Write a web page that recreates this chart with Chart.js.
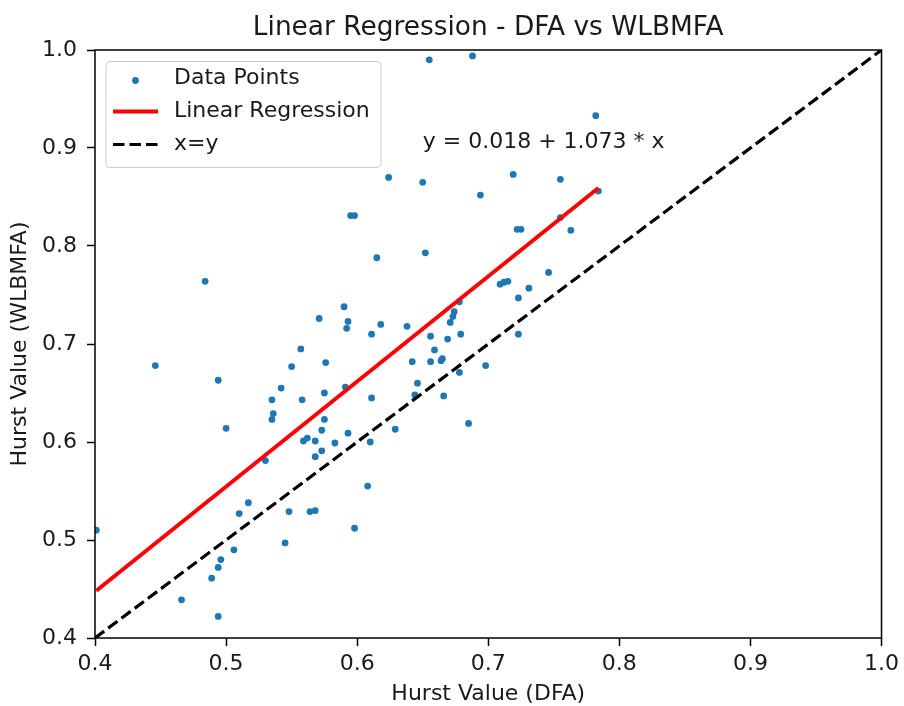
<!DOCTYPE html>
<html lang="en">
<head>
<meta charset="UTF-8">
<title>Linear Regression - DFA vs WLBMFA</title>
<script src="https://cdn.jsdelivr.net/npm/chart.js"></script>
<style>
  html, body { margin: 0; padding: 0; background: #fff; }
  #wrap { width: 904px; height: 706px; }
</style>
</head>
<body>
<div id="wrap"><canvas id="regChart" width="904" height="706"></canvas></div>
<script>
// Hurst values: DFA (x) and WLBMFA (y)
const dfa = [
  0.401, 0.500, 0.530, 0.559, 0.562, 0.568, 0.573, 0.568, 0.573, 0.583,
  0.593, 0.610, 0.608, 0.598, 0.564, 0.568, 0.548, 0.545, 0.517, 0.510,
  0.506, 0.496, 0.494, 0.489, 0.466, 0.494,
  0.615, 0.484, 0.590, 0.571, 0.593, 0.592, 0.611, 0.618, 0.557, 0.550,
  0.576, 0.446, 0.494, 0.542, 0.535, 0.558, 0.575, 0.591, 0.611, 0.536,
  0.535, 0.575,
  0.655, 0.688, 0.782, 0.624, 0.650, 0.719, 0.755, 0.694, 0.784, 0.755,
  0.722, 0.725, 0.763, 0.595, 0.598,
  0.652, 0.746, 0.709, 0.712, 0.715, 0.731, 0.723, 0.678, 0.674, 0.673,
  0.671, 0.638, 0.656, 0.669, 0.679, 0.723, 0.659, 0.642, 0.656, 0.664,
  0.665, 0.698, 0.678, 0.646, 0.644, 0.666, 0.685, 0.629
];
const wlbmfa = [
  0.510, 0.614, 0.581, 0.601, 0.604, 0.601, 0.612, 0.585, 0.591, 0.599,
  0.609, 0.600, 0.555, 0.512, 0.529, 0.530, 0.529, 0.497, 0.538, 0.527,
  0.490, 0.480, 0.472, 0.461, 0.439, 0.422,
  0.788, 0.764, 0.738, 0.726, 0.723, 0.716, 0.710, 0.720, 0.695, 0.677,
  0.681, 0.678, 0.663, 0.655, 0.643, 0.643, 0.650, 0.656, 0.645, 0.629,
  0.623, 0.623,
  0.990, 0.994, 0.933, 0.870, 0.865, 0.873, 0.868, 0.852, 0.856, 0.829,
  0.817, 0.817, 0.816, 0.831, 0.831,
  0.793, 0.773, 0.761, 0.763, 0.764, 0.757, 0.747, 0.743, 0.733, 0.728,
  0.722, 0.718, 0.708, 0.705, 0.710, 0.710, 0.694, 0.682, 0.682, 0.683,
  0.685, 0.678, 0.671, 0.660, 0.648, 0.647, 0.619, 0.613
];

const intercept = 0.018;
const slope = 1.073;
const identityRange = [0.4, 1.0];
const axisTicks = [0.4, 0.5, 0.6, 0.7, 0.8, 0.9, 1.0];
const seriesLabels = ['Data Points', 'Linear Regression', 'x=y'];
const eqText = 'y = 0.018 + 1.073 * x';
const eqPos = [0.65, 0.9];
const chartTitle = 'Linear Regression - DFA vs WLBMFA';

const FONT = 'DejaVu Sans';
const TXT = '#1a1a1a';
const FS = 22;

// build datasets
const points = dfa.map((x, i) => ({ x: x, y: wlbmfa[i] }));
const xMin = Math.min(...dfa), xMax = Math.max(...dfa);
const regLine = [xMin, xMax].map(x => ({ x: x, y: intercept + slope * x }));
const idLine = identityRange.map(v => ({ x: v, y: v }));

// matplotlib-ish frame, title, legend and equation text
const mplDecor = {
  id: 'mplDecor',
  afterDatasetsDraw(chart) {
    const ctx = chart.ctx;
    const a = chart.chartArea;
    const xs = chart.scales.x, ys = chart.scales.y;
    const ds = chart.data.datasets;
    ctx.save();

    // equation
    ctx.fillStyle = TXT;
    ctx.font = FS + 'px "' + FONT + '"';
    ctx.textAlign = 'left';
    ctx.textBaseline = 'alphabetic';
    ctx.fillText(eqText, xs.getPixelForValue(eqPos[0]), ys.getPixelForValue(eqPos[1]));

    // legend box
    const lx = a.left + 11, ly = a.top + 11.5, lw = 275, lh = 106;
    ctx.beginPath();
    ctx.roundRect(lx, ly, lw, lh, 4);
    ctx.fillStyle = 'rgba(255,255,255,0.8)';
    ctx.fill();
    ctx.strokeStyle = '#cccccc';
    ctx.lineWidth = 1;
    ctx.stroke();

    const rows = [ly + 17, ly + 50, ly + 83];
    const hx0 = lx + 7, hx1 = lx + 52;
    ds.forEach((d, i) => {
      const y = rows[i];
      if (d.type === 'line') {
        ctx.beginPath();
        ctx.setLineDash(d.borderDash || []);
        ctx.strokeStyle = d.borderColor;
        ctx.lineWidth = d.borderWidth;
        ctx.moveTo(hx0, y);
        ctx.lineTo(hx1, y);
        ctx.stroke();
        ctx.setLineDash([]);
      } else {
        ctx.beginPath();
        ctx.arc((hx0 + hx1) / 2, y + 2, d.pointRadius, 0, Math.PI * 2);
        ctx.fillStyle = d.backgroundColor;
        ctx.fill();
      }
      ctx.fillStyle = TXT;
      ctx.font = FS + 'px "' + FONT + '"';
      ctx.textBaseline = 'middle';
      ctx.fillText(d.label, lx + 68, y);
    });

    // frame
    ctx.strokeStyle = '#000';
    ctx.lineWidth = 1.5;
    ctx.strokeRect(a.left, a.top, a.right - a.left, a.bottom - a.top);

    // title centred over axes
    ctx.fillStyle = TXT;
    ctx.font = '26.4px "' + FONT + '"';
    ctx.textAlign = 'center';
    ctx.textBaseline = 'alphabetic';
    ctx.fillText(chartTitle, (a.left + a.right) / 2, a.top - 15);
    ctx.restore();
  }
};

function axisOpts(title, isY) {
  return {
    type: 'linear',
    min: axisTicks[0],
    max: axisTicks[axisTicks.length - 1],
    afterBuildTicks: s => { s.ticks = axisTicks.map(v => ({ value: v })); },
    afterFit: s => { if (isY) s.width = 95; else s.height = 68; },
    ticks: {
      color: TXT,
      padding: isY ? 10 : 5,
      font: { family: FONT, size: FS },
      callback: v => Number(v).toFixed(1)
    },
    grid: {
      display: true,
      drawOnChartArea: false,
      drawTicks: true,
      tickLength: 8,
      tickWidth: 1.5,
      tickColor: '#000'
    },
    border: { display: false },
    title: {
      display: true,
      text: title,
      color: TXT,
      font: { family: FONT, size: FS, lineHeight: 1 },
      padding: isY ? { top: 9, bottom: 0 } : { top: 0, bottom: 1 }
    }
  };
}

const ctx = document.getElementById('regChart').getContext('2d');
new Chart(ctx, {
  type: 'scatter',
  data: {
    datasets: [
      {
        label: seriesLabels[0],
        data: points,
        backgroundColor: '#1f77b4',
        borderWidth: 0,
        pointRadius: 3.4,
        pointHoverRadius: 3.4,
        order: 3
      },
      {
        type: 'line',
        label: seriesLabels[1],
        data: regLine,
        borderColor: '#ff0000',
        borderWidth: 4,
        pointRadius: 0,
        fill: false,
        order: 2
      },
      {
        type: 'line',
        label: seriesLabels[2],
        data: idLine,
        borderColor: '#000000',
        borderWidth: 3.2,
        borderDash: [11.5, 5],
        pointRadius: 0,
        fill: false,
        order: 1
      }
    ]
  },
  options: {
    responsive: false,
    animation: false,
    devicePixelRatio: 1,
    layout: { padding: { top: 50, right: 20, left: 0, bottom: 0 } },
    plugins: {
      legend: { display: false },
      title: { display: false },
      tooltip: { enabled: false }
    },
    scales: {
      x: axisOpts('Hurst Value (DFA)', false),
      y: axisOpts('Hurst Value (WLBMFA)', true)
    }
  },
  plugins: [mplDecor]
});
</script>
</body>
</html>
